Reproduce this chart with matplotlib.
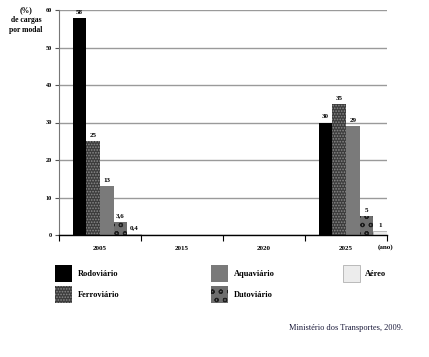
import matplotlib
matplotlib.use("Agg")
import matplotlib.pyplot as plt
from matplotlib.patches import Rectangle
import numpy as np

# data
years = ["2005", "2015", "2020", "2025"]
modais = ["Rodoviário", "Ferroviário", "Aquaviário", "Dutoviário", "Aéreo"]
rodoviario = [58, 0, 0, 30]
ferroviario = [25, 0, 0, 35]
aquaviario = [13, 0, 0, 29]
dutoviario = [3.6, 0, 0, 5]
aereo = [0.4, 0, 0, 1]
series = [rodoviario, ferroviario, aquaviario, dutoviario, aereo]

# bar styles per modal: (face, hatch colour, hatch)
styles = [
    ("#000000", "#000000", None),
    ("#3c3c3c", "#8a8a8a", "......"),
    ("#7a7a7a", "#7a7a7a", None),
    ("#6e6e6e", "#1e1e1e", "oo"),
    ("#ececec", "#b0b0b0", None),
]

plt.rcParams["font.family"] = ["Liberation Serif", "DejaVu Serif"]
plt.rcParams["hatch.linewidth"] = 0.8

W, H = 429, 357
fig = plt.figure(figsize=(W / 100, H / 100), dpi=100)
ax = fig.add_axes([59 / W, 1 - 235 / H, 328 / W, 225 / H])

x = np.arange(len(years))
bw = 1 / 6
for j, vals in enumerate(series):
    face, hc, hatch = styles[j]
    pos = x - 0.5 + (j + 1.5) * bw
    for xi, v in zip(pos, vals):
        if v == 0:
            continue
        ax.bar(xi, v, width=bw, color=face, edgecolor=hc, hatch=hatch,
               linewidth=0 if j != 4 else 0.6)
        txt = ("%g" % v).replace(".", ",")
        ax.text(xi, v + 0.8, txt, ha="center", va="bottom",
                fontsize=5, fontweight="bold")

ax.set_xlim(-0.5, len(years) - 0.5)
ax.set_ylim(0, 60)
ax.set_yticks(range(0, 61, 10))
ax.set_yticklabels([str(t) for t in range(0, 61, 10)], fontsize=4.5,
                   fontweight="bold")
ax.set_xticks(x)
ax.set_xticklabels(years, fontsize=5, fontweight="bold")
ax.tick_params(axis="x", length=0, pad=8)
ax.set_xticks(np.arange(-0.5, len(years)), minor=True)
ax.tick_params(axis="x", which="minor", length=4, width=0.8, color="black")
ax.tick_params(axis="y", length=3, width=0.8, pad=2, color="#555")
ax.yaxis.grid(True, color="#9a9a9a", linewidth=1)
ax.set_axisbelow(True)
for s in ["top", "right"]:
    ax.spines[s].set_visible(False)
ax.spines["left"].set_color("#777")
ax.spines["bottom"].set_linewidth(1)

fig.text(26 / W, 1 - 6 / H, "(%)\nde cargas\npor modal", ha="center",
         va="top", fontsize=5.5, fontweight="bold", linespacing=1.35)
fig.text(386 / W, 1 - 247 / H, "(ano)", ha="center", va="center",
         fontsize=5, fontweight="bold")

# legend drawn by hand to match the spacing
legend_pos = [(55, 265, 78), (55, 286, 78), (211, 265, 234), (211, 286, 234),
              (343, 265, 365)]
for (sx, sy, tx), name, (face, hc, hatch) in zip(legend_pos, modais, styles):
    r = Rectangle((sx / W, 1 - (sy + 17) / H), 17 / W, 17 / H,
                  transform=fig.transFigure, facecolor=face, edgecolor=hc,
                  hatch=hatch, linewidth=0.6 if name == "Aéreo" else 0)
    fig.add_artist(r)
    fig.text(tx / W, 1 - (sy + 9) / H, name, ha="left", va="center",
             fontsize=6, fontweight="bold")

fig.text(403 / W, 1 - 328 / H, "Ministério dos Transportes, 2009.",
         ha="right", va="center", fontsize=6, color="#1a1a3a")

fig.savefig("out.png", dpi=100)
